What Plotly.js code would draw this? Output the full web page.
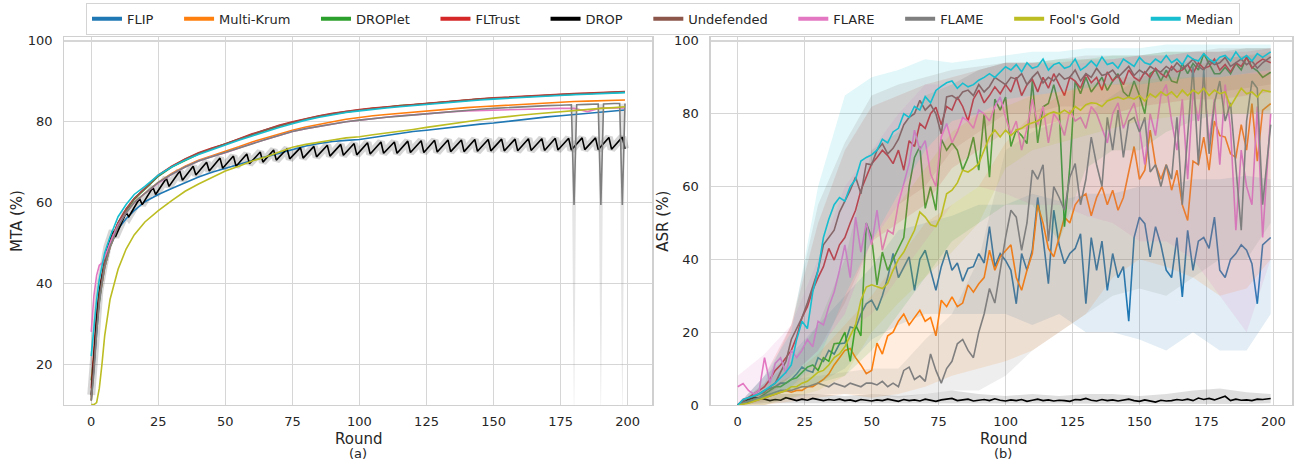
<!DOCTYPE html>
<html><head><meta charset="utf-8">
<script src="https://cdn.plot.ly/plotly-3.0.1.min.js"></script>
<style>html,body{margin:0;padding:0;background:#fff;}#chart{width:1299px;height:461px;}</style>
</head><body><div id="chart"></div>
<script>
// ---------- series names / colours ----------
const seriesNames = ['FLIP','Multi-Krum','DROPlet','FLTrust','DROP','Undefended','FLARE','FLAME',"Fool's Gold",'Median'];
const seriesColors = ['#1f77b4','#ff7f0e','#2ca02c','#d62728','#000000','#8c564b','#e377c2','#7f7f7f','#bcbd22','#17becf'];

// ---------- ticks ----------
const roundTicks = [0,25,50,75,100,125,150,175,200];
const mtaTicks = [20,40,60,80,100];
const asrTicks = [0,20,40,60,80,100];

// ---------- (a) MTA ----------
const mtaRounds = [0,1,2,3,4,5,7,10,13,16,20,25,30,35,40,45,50,55,60,65,70,75,80,85,90,95,100,105,110,115,120,125,130,135,140,145,150,155,160,165,170,175,180,185,190,195,199];
const mtaFLIP = [11,20,29,36,40,44,49,53.5,56,58,60.2,62,63.5,65,66.3,67.5,68.5,69.5,70.4,71.3,72.2,73.2,74,74.6,75.1,75.4,75.6,76.1,76.6,77.1,77.6,77.9,78.3,78.7,79.1,79.4,79.7,80.1,80.5,80.9,81.2,81.5,81.8,82.1,82.4,82.7,82.9];
const mtaMultiKrum = [11,20,30,36,40,44,49,54,57.5,60,62.3,65,67.2,69,70.5,71.7,72.7,73.8,75,76,77,77.9,78.7,79.4,80,80.6,81.1,81.5,81.8,82.1,82.4,82.7,83,83.3,83.5,83.7,83.9,84.1,84.3,84.5,84.7,84.9,85,85.1,85.2,85.3,85.4];
const mtaDROPlet = [16,22,30,36,41,45,50,55,58,60.8,63.3,66.5,68.8,70.5,72,73.3,74.4,75.6,76.8,77.9,78.9,79.8,80.6,81.3,81.9,82.4,82.9,83.3,83.6,84,84.2,84.5,84.8,85.1,85.4,85.6,85.8,86,86.2,86.4,86.5,86.6,86.8,86.9,87.1,87.2,87.3];
const mtaFLTrust = [14,25,33,38,42,46,50,55,58.5,61,63.5,66.8,69,70.8,72.3,73.5,74.5,75.8,77,78,79.1,80,80.8,81.5,82.1,82.6,83,83.4,83.7,84,84.3,84.6,84.9,85.2,85.5,85.7,85.9,86.1,86.3,86.5,86.7,86.8,87,87.1,87.3,87.4,87.5];
const mtaUndefended = [12,20,30,37,41,45.5,50,55,58.3,61,63.5,66.7,68.9,70.7,72.2,73.4,74.5,75.7,76.9,78,79,79.9,80.7,81.4,82,82.5,82.9,83.3,83.6,83.9,84.2,84.5,84.8,85.1,85.4,85.6,85.8,86,86.2,86.4,86.6,86.7,86.9,87,87.2,87.3,87.4];
const mtaFLARE = [28,37,42,44.5,45,46.5,50,54.5,57.5,60,62.3,64.8,67,68.8,70.3,71.4,72.3,73.5,74.6,75.6,76.6,77.6,78.3,78.9,79.5,80,80.4,80.8,81.1,81.5,81.7,82,82.3,82.5,82.7,82.8,82.9,83,83.1,83.2,83.2,83.3,83.3,82.5,83.4,83.3,83.4];
const mtaFoolsGold = [10,10,10.5,14,20,27,36,43.5,48.5,52,55.2,58,60.5,62.8,64.6,66.2,67.8,69,70.3,71.3,72.5,73.7,74.4,75,75.5,76,76.3,76.8,77.2,77.6,78.1,78.6,79.1,79.6,80,80.5,80.9,81.3,81.6,81.9,82.2,82.5,82.8,83.1,83.3,83.5,83.7];
const mtaMedian = [22,30,36,41,44,47.5,51.5,56.5,59.5,62,64,66.8,68.8,70.5,71.9,73.1,74.2,75.4,76.5,77.6,78.6,79.5,80.4,81.1,81.7,82.3,82.7,83.1,83.4,83.7,84,84.3,84.6,84.9,85.2,85.4,85.6,85.8,86,86.2,86.4,86.5,86.7,86.8,87,87.1,87.2];

const flameRounds = [0,1,2,3,4,5,7,10,13,16,20,25,30,35,40,45,50,55,60,65,70,75,80,85,90,95,100,105,110,115,120,125,130,135,140,145,150,155,160,165,170,175,179,180,181,185,189,190,191,195,197,198,199];
const mtaFLAME = [11,18,28,35,40,44,49,54,57.5,60,62.3,65,67,68.8,70.3,71.4,72.4,73.5,74.6,75.6,76.6,77.6,78.3,78.9,79.5,80,80.4,80.8,81.1,81.4,81.7,82,82.3,82.6,82.9,83.1,83.3,83.5,83.7,83.9,84,84.1,84.2,59.4,84.2,84.3,84.4,59.4,84.4,84.5,84.5,59.4,84.5];
const flameDipRounds = [179,180,181,189,190,191,197,198,199];
const flameDipLo = [84.2,5,84.2,84.4,5,84.4,84.5,5,84.5];
const flameDipHi = [84.2,84.2,84.2,84.4,84.4,84.4,84.5,84.5,84.5];

const dropRounds = [0,1,2,3,4,5,6,8,9,13,14,18,19,23,24,28,29,33,34,38,39,43,44,48,49,53,54,58,59,63,64,68,69,73,74,78,79,83,84,88,89,93,94,98,99,103,104,108,109,113,114,118,119,123,124,128,129,133,134,138,139,143,144,148,149,153,154,158,159,163,164,168,169,173,174,178,179,183,184,188,189,193,194,198,199];
const mtaDROP = [12.4,22,31,38,42,46,49,53,51.5,57.5,56.5,61,59.5,63.8,62,66,64,67.8,65.5,69,66.8,70,67.8,71,68.5,71.5,69,72,69.6,72.5,70,73,70.5,73.3,70.8,73.6,71,73.9,71.3,74.2,71.5,74.4,71.7,74.6,71.8,74.8,72,75,72.2,75,72.2,75.2,72.4,75.3,72.4,75.4,72.5,75.5,72.6,75.5,72.6,75.6,72.7,75.6,72.8,75.7,72.8,75.7,72.8,75.8,72.9,75.8,72.9,75.9,73,75.9,73,76,73.1,76,73.1,76.1,73.2,76.2,73.3];

// ---------- (b) ASR ----------
const asrRounds = [0,2,4,6,8,10,12,14,16,18,20,22,24,26,28,30,32,34,36,38,40,42,44,46,48,50,52,54,56,58,60,62,64,66,68,70,72,74,76,78,80,82,84,86,88,90,92,94,96,98,100,102,104,106,108,110,112,114,116,118,120,122,124,126,128,130,132,134,136,138,140,142,144,146,148,150,152,154,156,158,160,162,164,166,168,170,172,174,176,178,180,182,184,186,188,190,192,194,196,199];
const asrFLIP = [0,1,2,2.2,3,4,4.5,5,6,6,7,8.5,10.4,9.5,9,13,12,15,14,16.8,17,21.4,21,25,27.8,28.8,26,30,35,41.6,35,38,40.7,31.5,40,42.5,37,31.5,38,42.5,37,39,34,37.5,38,41.6,39,49,38,41.6,39.7,37,27.8,41.6,37,42.5,57,46,33.3,53.5,44,38.8,41.6,43,47,27.8,46,37,45,31.5,41.6,35,38,23,46,51.6,49.8,40.7,49,44,37,35,46,29.7,48,37,45,46,43,51.6,37,35,40,41.6,44,42.5,38.8,27.8,44,46];
const asrMultiKrum = [0,0.3,0.5,1,1.5,2,2.5,3,3.5,4,3.5,4,4,5,5,5.9,7,8.5,11,13,15,15.5,13,11,8.6,9.5,17,14,19,20,23,25,22,24,26,23,24,19,28.8,27,29.7,27,28,33,31,33.3,35,42.5,37,40.7,42.5,44,35,31.5,37,41.6,55,50,43,40.7,46,51.6,50,55,57,58,52,57,60,55,59,53.5,57,64.5,71,62,64.5,75.5,66,62,66,59,64.5,55,50.7,67,66,73.6,64.5,78,74,73.6,69,68,77,70,82.8,67,81,82.8];
const asrDROPlet = [0,0.5,1,1.5,2,3,4,5,5,6,7,7.5,9,10.4,11,9.5,13,12,16.8,17,20,12,22,19,50,46,33,42,37,40,43,46,60,68,71,54,60,53.5,73,70,72,70,64.5,68,73.6,64.5,80,62.6,84,81,84.6,71,75.5,74,71.8,89,72,81.9,82.8,88,82,49,65.4,89,85.5,90,86,88,90,86.4,89,91,86,84.6,89,85,80,91,92,89,92,89,88.5,93.8,91,93.8,92,96.5,93.8,91,91,92.8,91,93.8,92,95.6,92.8,91.8,90,91.4];
const asrFLTrust = [0,1.5,2,3,4,5,7,9.5,11,13,15,18.7,24,27,31.5,35,38,43,39.8,44,46,50,53.5,59,62.6,66.3,68,70,68.5,66.3,70,64.5,72.6,71,77.3,76,80,81.8,77,82,81,84.6,82,78,84,86.5,83,85,87.4,85.5,88,86,90,85,88,89.5,86,90,87,91,88,85,90,89,87,91,88.5,90,86.5,91.5,89,90.5,88,92,90,89,91.5,90,92.5,91,90,93,91.5,92,93.5,91,94,92.5,93,95,92,93.5,91.5,94,93,95.5,92.5,94,95,94];
const asrDROP = [0,1,1.5,2,2,1.5,1.2,1.5,1.3,2,1.5,1.2,1.6,1.3,1.8,1.4,1.2,1.5,1.3,1.6,1.2,1.4,1,1.5,1.3,1.1,1.4,1.2,1.6,1.3,1,1.5,1.2,1.4,1.1,1.6,1.3,1,1.4,1.5,1.8,1.2,1.4,1.6,1.1,1.3,1.5,1.2,1.7,1.3,1.1,1.4,1.2,1.5,1,1.3,1.6,1.2,1.4,1.1,1.3,1.2,1,1.5,1.4,1.8,1.3,1.1,1.5,1.2,1.4,1.1,1.3,1.6,1.2,1,1.4,1.2,0.8,1.3,1.1,1.2,1.5,1.3,1.6,1.2,1.9,1.5,1.8,1.4,2,2.4,1.2,1.6,1.3,1.4,1.2,1.6,1.5,1.8];
const asrUndefended = [0,1,2,2.5,3,3.5,5,6,9,12,18,21,24,28,32.4,37,44,46,48,53,56,59,62.6,58,66.3,66,70,71.8,69,70.5,73,77,79,80,83.7,81,82.5,80,74.5,84.6,85,84,86,86.5,85,88,86,87.5,90,89,88,90,89.5,91,88,90,91.5,88.5,90,89,91,89.5,90,92,89,91,90,92.5,90.5,91,92,90,91.5,93,90.5,92,91,93,92,91.5,93,92,94,92.5,93.5,95,93,92,94.5,93.5,94,95.5,93,94,95,93.5,94.5,92.5,94,95.6];
const asrFLARE = [5,5.9,4,3,4,13,6,11.4,13,8.6,15,13,15,18,16,23,22,27,31,37,44,35,51.6,42,50,44,53.5,42.5,48,47,55.3,60.8,66.3,75.5,70,72.6,63.5,60,73.6,77.3,72,75,79,78,76,81,80,78,82,84.6,79,74.5,78,70,76,84,77,82,72,80,78,74,81,78,79,76,82,80,76,72,80,83,76,80,83,76,66,80,74,85,88,78,70,84,62,86,78,90,72,84,66,88,76,48,70,60,55,82,46,80];
const asrFLAME = [0,0.5,1,1.5,2,2.5,3,3.5,4,4,4,4.5,5,5,5.5,6,5.5,5,6,5.5,5,6,5.5,5,6,6,5.5,6.5,5,6,5,9.5,10.4,7,8,6.5,14,9.5,6,10,12,16.8,18,15,13,20,25,32,28,37,46,53.5,51.6,42.5,50,64.5,62,66,45,60,57,53.5,62.6,66.3,55,62,73.6,66,60,79,70,81,68,78,79,75,79,64,66,60,66,62,79,55,73,93,66,92,69,83,89,78,83,64.5,48,78,89,87,55,77];
const asrFoolsGold = [0,0.2,0.5,1,1.5,2,2.5,3,3.5,4,5,5,6,6.5,7.7,9,9.5,11,13,14,16,19,22,28.8,32.4,33,32.5,32,33.4,37,40,42,45,48,53,51.6,49.5,49,52,58,59,61,64.5,64,65,66.3,70,73.6,75.5,73.6,75.5,74,75.5,76,77,77.5,78,79,80,80.5,80,81,80,82,81,82.5,83,82.8,82,83.5,84,84.6,84,84.6,84,85,83.5,85.5,84.5,86,85,86,84.5,86.5,85,86.5,85.5,87,85,86.5,85.5,86,82,84.5,87,85.5,86,84.6,86.5,86];
const asrMedian = [0,1.5,2,2.5,3,4,5,6,7.5,9,11,18,23,21,31,37,46,51,55,57,56,60,62,67,68,68.7,70,73,72,75,76,80,79,82,81,84.7,83,86.4,87.5,88.5,89,87,88.4,87.4,88,89.2,90,91,90,91.5,92.9,92,93.5,91.5,94,92.5,93,95,92,93.5,94,92.5,93,95,92,93,94.5,93,95.6,93.5,94,92.5,95,94,93,95.5,94,93.5,95,94,96,94,95,93.5,96,95,94.5,96.5,95,94,95.5,96,94.5,97,95,96,94.5,96.5,95.5,97];

// confidence bands (ASR), read every 10 rounds
const bandRounds = [0,10,20,30,40,50,60,70,80,90,100,110,120,130,140,150,160,170,180,190,199];
const bandFLIPLo = [0,2,4,6,10,18,22,25,25,25,25,22,25,20,20,18,15,20,15,15,25];
const bandFLIPHi = [0,8,14,22,30,38,48,50,52,55,55,58,56,58,58,60,60,62,62,63,62];
const bandMultiKrumLo = [0,0,1,2,3,2,3,5,8,10,12,15,20,25,35,40,38,35,30,32,40];
const bandMultiKrumHi = [0,4,8,14,22,30,40,50,55,60,72,80,85,88,90,90,92,93,95,96,97];
const bandDROPletLo = [0,2,4,6,8,15,25,35,45,50,55,55,45,65,70,70,75,78,80,80,80];
const bandDROPletHi = [0,6,12,22,40,70,75,85,88,92,94,94,95,95,96,96,97,97,97,98,98];
const bandFLTrustLo = [0,2,8,15,25,45,50,55,65,70,75,76,78,80,80,82,83,84,84,85,86];
const bandFLTrustHi = [0,8,22,50,70,82,85,88,90,92,94,94,94,95,95,96,96,97,97,97,98];
const bandDROPLo = [0,0.5,0.5,0.3,0.3,0.3,0.3,0.3,0.5,0.3,0.3,0.3,0.3,0.3,0.3,0.3,0.3,0.3,0.3,0.3,0.5];
const bandDROPHi = [0,3,3,3,2.5,3,2.5,3,4,3,2.5,3,2.5,3,3,2.5,3,4,4.5,3.5,3];
const bandUndefendedLo = [0,1,8,15,28,45,55,60,70,75,80,80,82,82,84,84,85,86,86,87,88];
const bandUndefendedHi = [0,6,22,55,72,85,88,90,92,93,94,94,95,96,96,96,97,97,98,98,98];
const bandFLARELo = [0,2,5,10,20,25,35,45,55,60,58,55,55,52,50,45,45,40,30,20,40];
const bandFLAREHi = [8,14,22,40,60,70,80,88,88,92,94,94,93,94,95,96,96,97,97,98,98];
const bandFLAMELo = [0,0,2,3,3,3,2,3,4,4,8,15,20,25,30,32,30,35,40,40,50];
const bandFLAMEHi = [0,4,7,8,9,10,10,18,25,40,70,75,78,80,85,90,92,95,95,96,96];
const bandFoolsGoldLo = [0,0,2,4,8,20,28,35,42,50,65,70,72,74,76,78,79,80,80,80,81];
const bandFoolsGoldHi = [0,4,8,15,25,45,55,65,75,80,82,85,86,88,88,89,90,90,90,91,91];
const bandMedianLo = [0,2,5,12,30,45,58,70,78,80,84,85,86,87,88,88,89,90,90,91,92];
const bandMedianHi = [0,8,20,60,85,90,92,95,94,95,96,97,97,98,98,98,99,99,99,99,99];

// ---------- build traces ----------
function rgba(hex, a){
  const n = parseInt(hex.slice(1),16);
  return 'rgba('+((n>>16)&255)+','+((n>>8)&255)+','+(n&255)+','+a+')';
}
const asrValues = [asrFLIP,asrMultiKrum,asrDROPlet,asrFLTrust,asrDROP,asrUndefended,asrFLARE,asrFLAME,asrFoolsGold,asrMedian];
const bandLo = [bandFLIPLo,bandMultiKrumLo,bandDROPletLo,bandFLTrustLo,bandDROPLo,bandUndefendedLo,bandFLARELo,bandFLAMELo,bandFoolsGoldLo,bandMedianLo];
const bandHi = [bandFLIPHi,bandMultiKrumHi,bandDROPletHi,bandFLTrustHi,bandDROPHi,bandUndefendedHi,bandFLAREHi,bandFLAMEHi,bandFoolsGoldHi,bandMedianHi];
const mtaX = [mtaRounds,mtaRounds,mtaRounds,mtaRounds,dropRounds,mtaRounds,mtaRounds,flameRounds,mtaRounds,mtaRounds];
const mtaValues = [mtaFLIP,mtaMultiKrum,mtaDROPlet,mtaFLTrust,mtaDROP,mtaUndefended,mtaFLARE,mtaFLAME,mtaFoolsGold,mtaMedian];

const traces = [];
// panel (a)
traces.push({x:dropRounds, y:mtaDROP, xaxis:'x', yaxis:'y', mode:'lines', showlegend:false, hoverinfo:'skip',
  line:{color:'rgba(0,0,0,0.16)', width:8}});
traces.push({x:flameDipRounds.concat(flameDipRounds.slice().reverse()), y:flameDipHi.concat(flameDipLo.slice().reverse()),
  xaxis:'x', yaxis:'y', mode:'lines', fill:'toself', fillcolor:'rgba(127,127,127,0.2)', line:{width:0}, showlegend:false, hoverinfo:'skip'});
for (let i=0;i<seriesNames.length;i++){
  traces.push({x:mtaX[i], y:mtaValues[i], xaxis:'x', yaxis:'y', mode:'lines', name:seriesNames[i], showlegend:false,
    line:{color:seriesColors[i], width:1.6}});
}
// panel (b)
for (let i=0;i<seriesNames.length;i++){
  traces.push({x:bandRounds.concat(bandRounds.slice().reverse()), y:bandHi[i].concat(bandLo[i].slice().reverse()),
    xaxis:'x2', yaxis:'y2', mode:'lines', fill:'toself', fillcolor:rgba(seriesColors[i],0.13), line:{width:0}, showlegend:false, hoverinfo:'skip'});
  traces.push({x:asrRounds, y:asrValues[i], xaxis:'x2', yaxis:'y2', mode:'lines', name:seriesNames[i], showlegend:false,
    line:{color:seriesColors[i], width:1.6}});
}
// legend entries
const pad = '\u00a0\u00a0\u00a0\u00a0\u00a0';
for (let i=0;i<seriesNames.length;i++){
  traces.push({x:[null], y:[null], xaxis:'x', yaxis:'y', mode:'lines', name:seriesNames[i]+(i<seriesNames.length-1?pad:''),
    showlegend:true, line:{color:seriesColors[i], width:4}});
}

const axisCommon = {showgrid:true, gridcolor:'#d6d6d6', gridwidth:1.2, showline:true, mirror:true, linecolor:'#d0d0d0', linewidth:1.2,
  zeroline:false, ticks:'', tickfont:{size:13, color:'#262626'}};
const titleFont = {size:15, color:'#262626'};
const layout = {
  width:1299, height:461, margin:{l:0,r:0,t:0,b:0},
  paper_bgcolor:'#ffffff', plot_bgcolor:'#ffffff',
  font:{family:'DejaVu Sans, sans-serif', size:13, color:'#262626'},
  showlegend:true,
  legend:{orientation:'h', x:0.5104, xanchor:'center', y:0.994, yanchor:'top', bordercolor:'#d4d4d4', borderwidth:1,
    bgcolor:'#ffffff', font:{size:13, color:'#262626'}, itemwidth:30, tracegroupgap:0},
  xaxis:Object.assign({}, axisCommon, {domain:[0.0495,0.5022], range:[-10.05,209.2], tickvals:roundTicks, anchor:'y', ticklabelstandoff:4}),
  yaxis:Object.assign({}, axisCommon, {domain:[0.1215,0.9191], range:[9.9,100.9], tickvals:mtaTicks, anchor:'x', ticklabelstandoff:8}),
  xaxis2:Object.assign({}, axisCommon, {domain:[0.5471,0.9949], range:[-10.1,207.1], tickvals:roundTicks, anchor:'y2', ticklabelstandoff:4}),
  yaxis2:Object.assign({}, axisCommon, {domain:[0.1215,0.9191], range:[0,101], tickvals:asrTicks, anchor:'x2', ticklabelstandoff:8}),
  annotations:[
    {text:'MTA (%)', xref:'paper', yref:'paper', x:17/1299, y:(461-221)/461, xanchor:'center', yanchor:'middle', textangle:-90, showarrow:false, font:titleFont},
    {text:'ASR (%)', xref:'paper', yref:'paper', x:662.7/1299, y:(461-221)/461, xanchor:'center', yanchor:'middle', textangle:-90, showarrow:false, font:titleFont},
    {text:'Round', xref:'paper', yref:'paper', x:358.3/1299, y:(461-439.3)/461, xanchor:'center', yanchor:'middle', showarrow:false, font:titleFont},
    {text:'(a)', xref:'paper', yref:'paper', x:358.3/1299, y:(461-453.5)/461, xanchor:'center', yanchor:'middle', showarrow:false, font:{size:13, color:'#262626'}},
    {text:'Round', xref:'paper', yref:'paper', x:1003/1299, y:(461-439.3)/461, xanchor:'center', yanchor:'middle', showarrow:false, font:titleFont},
    {text:'(b)', xref:'paper', yref:'paper', x:1003/1299, y:(461-453.5)/461, xanchor:'center', yanchor:'middle', showarrow:false, font:{size:13, color:'#262626'}}
  ]
};
Plotly.newPlot('chart', traces, layout, {staticPlot:true, displayModeBar:false});
</script>
</body></html>
